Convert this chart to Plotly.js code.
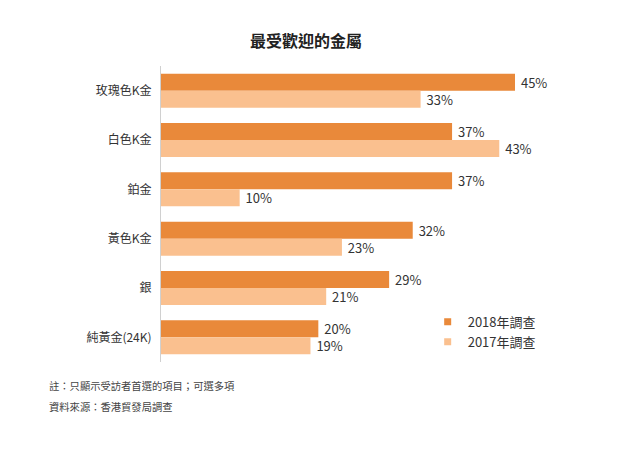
<!DOCTYPE html>
<html>
<head>
<meta charset="utf-8">
<script src="https://cdn.plot.ly/plotly-3.0.1.min.js"></script>
<style>
  body { margin: 0; background: #fff; }
  #chart { width: 638px; height: 474px; }
</style>
</head>
<body>
<div id="chart"></div>
<script>
var categories = ["玫瑰色K金", "白色K金", "鉑金", "黃色K金", "銀", "純黃金(24K)"];
var values2018 = [45, 37, 37, 32, 29, 20];
var values2017 = [33, 43, 10, 23, 21, 19];
var seriesNames = ["2018年調查", "2017年調查"];
var colors = ["#E9893A", "#FAC08F"];

var font = "'Noto Sans CJK TC', 'Noto Sans', sans-serif";

function pct(v) { return "\u00a0" + v + "%"; }

var traces = [
  {type: "bar", orientation: "h", y: categories, x: values2018, name: seriesNames[0], showlegend: false,
   marker: {color: colors[0]}, text: values2018.map(pct), constraintext: "none",
   textposition: "outside", cliponaxis: false, textfont: {size: 13, color: "#333"}},
  {type: "bar", orientation: "h", y: categories, x: values2017, name: seriesNames[1], showlegend: false,
   marker: {color: colors[1]}, text: values2017.map(pct), constraintext: "none",
   textposition: "outside", cliponaxis: false, textfont: {size: 13, color: "#333"}},
  // legend-only entries with small square markers
  {type: "scatter", mode: "markers", x: [null], y: [null], name: seriesNames[0],
   marker: {symbol: "square", size: 7, color: colors[0]}},
  {type: "scatter", mode: "markers", x: [null], y: [null], name: seriesNames[1],
   marker: {symbol: "square", size: 7, color: colors[1]}}
];

var layout = {
  width: 638, height: 474,
  margin: {l: 161, r: 5, t: 66, b: 112},
  paper_bgcolor: "#fff", plot_bgcolor: "#fff",
  font: {family: font, color: "#333", size: 12},
  title: {text: "<b>最受歡迎的金屬</b>", font: {size: 16, color: "#222"},
          xref: "container", x: 306 / 638, xanchor: "center",
          yref: "container", y: 1 - 41 / 474, yanchor: "middle"},
  barmode: "group", bargap: 0.31, bargroupgap: 0,
  xaxis: {range: [0, 60], showgrid: false, zeroline: false, showticklabels: false, showline: false},
  yaxis: {autorange: "reversed", showgrid: false, zeroline: false, showline: true,
          linecolor: "#d0d0d0", linewidth: 1, ticks: "", ticklabelstandoff: 6,
          tickfont: {size: 12, color: "#333"}},
  showlegend: true,
  legend: {x: 0.565, xanchor: "left", y: 0.102, yanchor: "middle", font: {size: 13, color: "#333"},
           itemwidth: 30, tracegroupgap: 0, bgcolor: "rgba(0,0,0,0)"},
  annotations: [
    {xref: "paper", yref: "paper", x: -0.2415, y: -0.081, xanchor: "left", yanchor: "middle",
     showarrow: false, text: "註：只顯示受訪者首選的項目；可選多項", font: {size: 10.3, color: "#444"}},
    {xref: "paper", yref: "paper", x: -0.2415, y: -0.152, xanchor: "left", yanchor: "middle",
     showarrow: false, text: "資料來源：香港貿發局調查", font: {size: 10.3, color: "#444"}}
  ]
};

Plotly.newPlot("chart", traces, layout, {displayModeBar: false, staticPlot: true});
</script>
</body>
</html>
